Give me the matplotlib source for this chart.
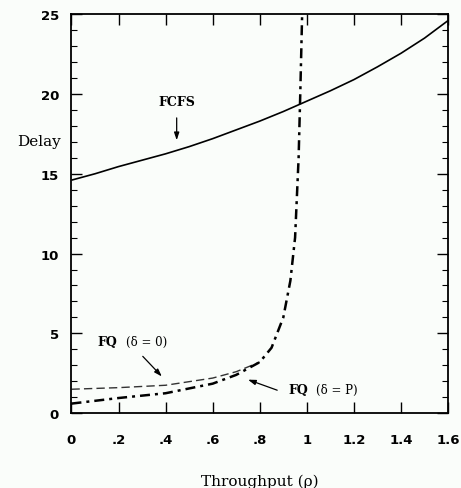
import matplotlib
matplotlib.use("Agg")
import matplotlib.pyplot as plt
from matplotlib.ticker import MultipleLocator, FixedLocator

# Data
fcfs_x = [0, 0.1, 0.2, 0.3, 0.4, 0.5, 0.6, 0.7, 0.8, 0.9, 1.0, 1.1, 1.2, 1.3, 1.4, 1.5, 1.6]
fcfs_y = [14.6, 15.0, 15.45, 15.85, 16.25, 16.7, 17.2, 17.75, 18.3, 18.9, 19.55,
          20.2, 20.9, 21.7, 22.55, 23.5, 24.6]

fq0_x = [0, 0.2, 0.4, 0.6, 0.7, 0.8]
fq0_y = [1.5, 1.6, 1.75, 2.2, 2.6, 3.2]

fqp_x = [0, 0.2, 0.4, 0.6, 0.7, 0.8, 0.85, 0.9, 0.93, 0.95, 0.965, 0.972, 0.98]
fqp_y = [0.6, 0.95, 1.25, 1.85, 2.4, 3.2, 4.1, 6.0, 8.3, 11.0, 16.0, 20.0, 25.0]

xticks = [0, 0.2, 0.4, 0.6, 0.8, 1.0, 1.2, 1.4, 1.6]
xticklabels = ["0", ".2", ".4", ".6", ".8", "1", "1.2", "1.4", "1.6"]
yticks = [0, 5, 10, 15, 20, 25]

bg = "#fafdfa"
fig = plt.figure(figsize=(4.61, 4.89), dpi=100, facecolor=bg)
ax = fig.add_axes([0.155, 0.153, 0.817, 0.816], facecolor=bg)

ax.plot(fcfs_x, fcfs_y, color="black", lw=1.2, solid_capstyle="butt")
ax.plot(fq0_x, fq0_y, color="#333333", lw=1.0, linestyle=(0, (6, 3)))
ax.plot(fqp_x, fqp_y, color="black", lw=1.8, linestyle=(0, (4, 2, 1.2, 2)))

ax.set_xlim(0, 1.6)
ax.set_ylim(0, 25)

ax.xaxis.set_major_locator(FixedLocator(xticks))
ax.set_xticklabels(xticklabels)
ax.yaxis.set_major_locator(FixedLocator(yticks))
ax.yaxis.set_minor_locator(MultipleLocator(1))

ax.tick_params(axis="both", which="major", direction="in", length=8, width=1.0,
               top=True, right=True, labelsize=9.5, pad=9)
ax.tick_params(axis="y", which="minor", direction="in", length=4, width=0.8,
               left=True, right=True)
ax.tick_params(axis="x", which="major", pad=14)
for lab in ax.get_xticklabels() + ax.get_yticklabels():
    lab.set_fontweight("bold")
    lab.set_family("DejaVu Sans")

for s in ax.spines.values():
    s.set_linewidth(1.3)

ax.set_xlabel("Throughput (ρ)", family="DejaVu Serif", fontsize=11, labelpad=20)
fig.text(0.085, 0.709, "Delay", family="DejaVu Serif", fontsize=11,
         ha="center", va="center")

arrow = dict(arrowstyle="-|>,head_length=0.45,head_width=0.15",
             color="black", lw=0.9, shrinkA=0, shrinkB=0)

# Annotations
ax.text(0.447, 19.5, "FCFS", family="DejaVu Serif", fontweight="bold",
        fontsize=9, ha="center", va="center")
ax.annotate("", xy=(0.447, 17.1), xytext=(0.447, 18.5), arrowprops=arrow)

ax.text(0.11, 4.5, "FQ", family="DejaVu Serif", fontweight="bold",
        fontsize=9, ha="left", va="center")
ax.text(0.23, 4.5, "(δ = 0)", family="DejaVu Serif",
        fontsize=8.5, ha="left", va="center")
ax.annotate("", xy=(0.384, 2.3), xytext=(0.303, 3.56), arrowprops=arrow)

ax.text(0.92, 1.5, "FQ", family="DejaVu Serif", fontweight="bold",
        fontsize=9, ha="left", va="center")
ax.text(1.04, 1.5, "(δ = P)", family="DejaVu Serif",
        fontsize=8.5, ha="left", va="center")
ax.annotate("", xy=(0.75, 2.1), xytext=(0.874, 1.44), arrowprops=arrow)

fig.savefig("out.png", dpi=100, facecolor=bg)
